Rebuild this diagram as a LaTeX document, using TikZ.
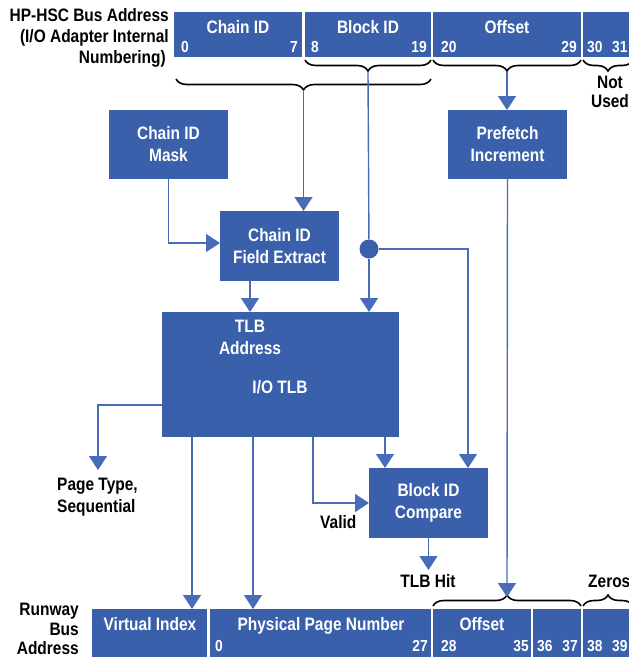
\documentclass[tikz,border=0pt]{standalone}
\usepackage{fontspec}
\setmainfont{Liberation Sans}[FakeStretch=0.86]
\usetikzlibrary{arrows.meta,decorations.pathreplacing}
\definecolor{hpblue}{RGB}{58,96,171}
\definecolor{hpline}{RGB}{72,108,184}
\begin{document}
\begin{tikzpicture}[x=1pt,y=-1pt,
  box/.style={fill=hpblue, text=white, font=\fontsize{18}{22}\selectfont\bfseries, align=center, inner sep=0pt, outer sep=0pt, anchor=north west},
  seg/.style={fill=hpblue, inner sep=0pt, outer sep=0pt, anchor=north west, minimum height=#1},
  seg/.default=45pt,
  wtxt/.style={text=white, font=\fontsize{18}{22}\selectfont\bfseries, inner sep=0pt, anchor=base},
  bits/.style={text=white, font=\fontsize{16}{18}\selectfont\bfseries, inner sep=0pt, anchor=base},
  lbl/.style={text=black, font=\fontsize{18}{21}\selectfont\bfseries, inner sep=0pt},
  conn/.style={draw=hpline, line width=1.4pt},
  arr/.style={conn, -{Triangle[width=18pt,length=14pt]}},
  brc/.style={draw=black, line width=1.6pt, decorate, decoration={brace, amplitude=#1}},
  brc/.default=11pt
]
\clip (0,0) rectangle (629,657);

% ---------- top bus address ----------
\node[seg, minimum width=128pt] (tChain) at (174,12) {};
\node[seg, minimum width=126pt] (tBlock) at (305,12) {};
\node[seg, minimum width=148pt] (tOffset) at (433,12) {};
\node[seg, minimum width=50pt] (tNU) at (583,12) {};
\node[wtxt] (tChainL) at (238,33) {Chain ID};
\node[wtxt] (tBlockL) at (368,33) {Block ID};
\node[wtxt] (tOffsetL) at (507,33) {Offset};
\node[bits, anchor=base west] (b0) at (181,52) {0};
\node[bits, anchor=base east] (b7) at (298,52) {7};
\node[bits, anchor=base west] (b8) at (311,52) {8};
\node[bits, anchor=base east] (b19) at (427,52) {19};
\node[bits, anchor=base west] (b20) at (441,52) {20};
\node[bits, anchor=base east] (b29) at (577,52) {29};
\node[bits, anchor=base west] (b30) at (587,52) {30};
\node[bits, anchor=base west] (b31) at (612,52) {31};

\node[lbl, anchor=base east] (h1) at (169,21) {HP-HSC Bus Address};
\node[lbl, anchor=base east] (h2) at (169,42) {(I/O Adapter Internal};
\node[lbl, anchor=base east] (h3) at (166,63) {Numbering)};
\node[lbl, anchor=base] (nu1) at (610,88) {Not};
\node[lbl, anchor=base] (nu2) at (610,107) {Used};

% braces (top)
\draw[brc, decoration={mirror}] (305,60) -- (431,60);
\draw[brc, decoration={mirror}] (433,60) -- (581,60);
\draw[brc, decoration={mirror}] (583,60) -- (633,60);
\draw[brc, decoration={mirror}] (176,79) -- (431,79);
\coordinate (blk) at (368,72);
\coordinate (ofs) at (507,72);
\coordinate (bb) at (303.5,90);

% ---------- boxes ----------
\node[box, minimum width=119pt, minimum height=69pt] (mask) at (109,110) {Chain ID\\Mask};
\node[box, minimum width=119pt, minimum height=69pt] (pf) at (448,110) {Prefetch\\Increment};
\node[box, minimum width=119pt, minimum height=70pt] (fx) at (220,211) {Chain ID\\Field Extract};
\node[box, minimum width=237pt, minimum height=125pt] (tlb) at (162,312) {};
\node[wtxt] (tlbA) at (250,332) {TLB};
\node[wtxt] (tlbB) at (250,354) {Address};
\node[wtxt] (tlbC) at (280,393) {I/O TLB};
\node[box, minimum width=119pt, minimum height=70pt] (cmp) at (369,468) {Block ID\\Compare};
\node[circle, fill=hpblue, minimum size=19pt, inner sep=0pt] (dot) at (369,249) {};

% ---------- runway bus address ----------
\node[seg=50pt, minimum width=115pt] (vi) at (92,609) {};
\node[seg=50pt, minimum width=221pt] (ppn) at (210,609) {};
\node[seg=50pt, minimum width=98pt] (rofs) at (433,609) {};
\node[seg=50pt, minimum width=48pt] (r36) at (533,609) {};
\node[seg=50pt, minimum width=50pt] (rz) at (583,609) {};
\node[wtxt] (viL) at (150,630) {Virtual Index};
\node[wtxt] (ppnL) at (321,630) {Physical Page Number};
\node[wtxt] (rofsL) at (482,630) {Offset};
\node[bits, anchor=base west] (r0) at (215,651) {0};
\node[bits, anchor=base east] (r27) at (428,651) {27};
\node[bits, anchor=base west] (r28) at (441,651) {28};
\node[bits, anchor=base east] (r35) at (529,651) {35};
\node[bits, anchor=base west] (r36L) at (537,651) {36};
\node[bits, anchor=base east] (r37) at (578,651) {37};
\node[bits, anchor=base west] (r38) at (587,651) {38};
\node[bits, anchor=base west] (r39) at (612,651) {39};
\node[lbl, anchor=base east] (rw1) at (79,615) {Runway};
\node[lbl, anchor=base east] (rw2) at (79,635) {Bus};
\node[lbl, anchor=base east] (rw3) at (79,654) {Address};

\draw[brc] (433,606) -- (581,606);
\draw[brc] (583,606) -- (633,606);
\coordinate (rof) at (507,597);

% ---------- other labels ----------
\node[lbl, anchor=base west] (pt1) at (57,490) {Page Type,};
\node[lbl, anchor=base west] (pt2) at (57,512) {Sequential};
\coordinate (ptarr) at (98,470);
\node[lbl, anchor=base west] (valid) at (320,528) {Valid};
\node[lbl, anchor=base] (hitL) at (428,587) {TLB Hit};
\coordinate (hit) at (428.5,570);
\node[lbl, anchor=base west] (zeros) at (588,587) {Zeros};

% ---------- connectors ----------
\draw[arr] (bb) -- (bb |- fx.north);
\draw[conn] (blk) -- (dot);
\draw[arr] (dot) -- (dot |- tlb.north);
\draw[arr] (dot) -| ([xshift=39.5pt]cmp.north);
\draw[arr] (ofs) -- (ofs |- pf.north);
\draw[arr] (pf.south) -- (rof);
\draw[arr] (mask.south) |- ([yshift=3pt]fx.west);
\draw[arr] ([xshift=-29.5pt]fx.south) -- ([xshift=-29.5pt]fx.south |- tlb.north);
\draw[arr] ([yshift=-30.5pt]tlb.west) -| (ptarr);
\draw[arr] ([xshift=-88.5pt]tlb.south) -- ([xshift=-88.5pt]tlb.south |- vi.north);
\draw[arr] ([xshift=-27.5pt]tlb.south) -- ([xshift=-27.5pt]tlb.south |- ppn.north);
\draw[arr] ([xshift=32.5pt]tlb.south) |- (cmp.west);
\draw[arr] ([xshift=104.5pt]tlb.south) -- ([xshift=-43.5pt]cmp.north);
\draw[arr] (cmp.south) -- (hit);
\end{tikzpicture}
\end{document}
